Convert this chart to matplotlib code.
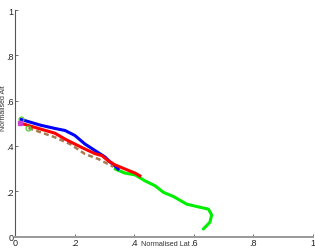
import matplotlib
matplotlib.use("Agg")
import matplotlib.pyplot as plt

# normalised track data
blue_lat = [0.020, 0.084, 0.134, 0.168, 0.201, 0.235, 0.268, 0.302, 0.319, 0.339, 0.346]
blue_alt = [0.517, 0.492, 0.477, 0.468, 0.446, 0.408, 0.380, 0.351, 0.329, 0.307, 0.298]

red_lat = [0.017, 0.084, 0.134, 0.168, 0.201, 0.235, 0.268, 0.292, 0.312, 0.336, 0.369, 0.403, 0.419]
red_alt = [0.501, 0.475, 0.456, 0.430, 0.408, 0.386, 0.366, 0.357, 0.335, 0.316, 0.298, 0.280, 0.268]

brown_lat = [0.045, 0.134, 0.185, 0.235, 0.280, 0.330]
brown_alt = [0.479, 0.438, 0.408, 0.364, 0.342, 0.308]

green_lat = [0.336, 0.369, 0.403, 0.436, 0.470, 0.498, 0.531, 0.576, 0.621, 0.649, 0.660, 0.654, 0.632]
green_alt = [0.298, 0.280, 0.272, 0.246, 0.224, 0.195, 0.177, 0.143, 0.129, 0.121, 0.095, 0.063, 0.033]

ticks = [0, 0.2, 0.4, 0.6, 0.8, 1]
tick_labels = ["0", ".2", ".4", ".6", ".8", "1"]

plt.rcParams['font.family'] = ['Liberation Sans']

fig = plt.figure(figsize=(3.15, 2.51), dpi=100)
ax = fig.add_axes([15 / 315, 13.5 / 251, 298 / 315, 226.5 / 251])

ax.plot(green_lat, green_alt, color='#00ee00', lw=2.2, solid_capstyle='round', zorder=2)
ax.plot(blue_lat, blue_alt, color='#0000ff', lw=2.2, zorder=3)
ax.plot(brown_lat, brown_alt, color='#a87a50', lw=1.8, linestyle=(0, (2, 1.3)), zorder=4)
ax.plot(red_lat, red_alt, color='#ff0000', lw=2.2, zorder=5)

# start markers
ax.plot(blue_lat[0], blue_alt[0], 'o', mfc='none', mec='#55cc33', ms=3.5, mew=0.9, zorder=6)
ax.plot(brown_lat[0], brown_alt[0], 'o', mfc='none', mec='#55cc33', ms=3.5, mew=0.9, zorder=6)
ax.plot(red_lat[0], red_alt[0], 's', color='#cc44cc', ms=2.2, zorder=6)

ax.set_xlim(0, 1)
ax.set_ylim(0, 1)
ax.set_xticks(ticks)
ax.set_xticklabels(tick_labels)
ax.set_yticks(ticks)
ax.set_yticklabels(tick_labels)

for s in ['top', 'right']:
    ax.spines[s].set_visible(False)
ax.spines['left'].set_color('#555555')
ax.spines['left'].set_linewidth(0.8)
ax.spines['bottom'].set_color('#999999')
ax.spines['bottom'].set_linewidth(1.4)

ax.tick_params(direction='in', length=2, width=0.6, colors='#555555',
               labelcolor='#222222', labelsize=6.5, pad=1)

ax.set_xlabel('Normalised Lat', fontsize=5.2, color='#333333')
ax.set_ylabel('Normalised Alt', fontsize=5, color='#333333')
ax.xaxis.set_label_coords(0.505, -0.017)
ax.yaxis.set_label_coords(-0.027, 0.57)

fig.savefig('out.png', dpi=100)
